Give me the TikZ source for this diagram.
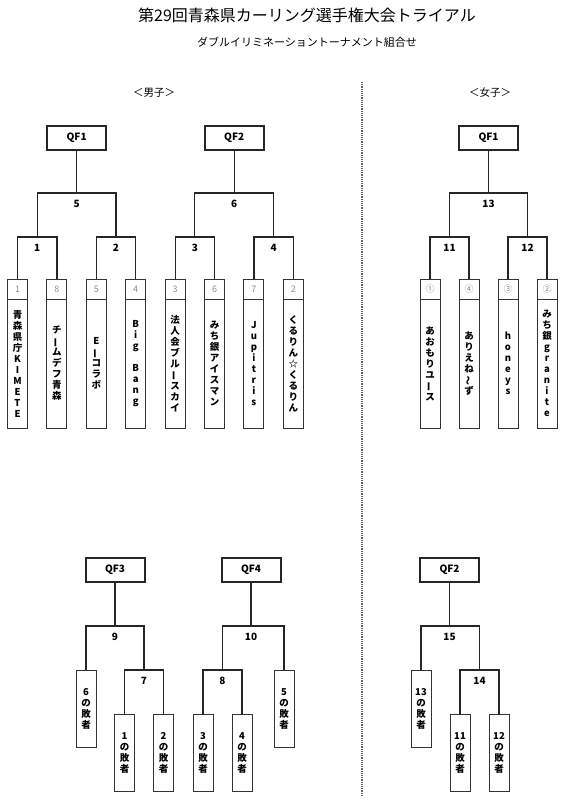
\documentclass[tikz,border=0pt]{standalone}
\usepackage{fontspec}
\setmainfont{Noto Sans CJK JP}
\usetikzlibrary{positioning}
\newcommand{\tbar}{\rotatebox[origin=c]{90}{ー}}
\newcommand{\tnami}{\rotatebox[origin=c]{90}{～}}

\begin{document}
\begin{tikzpicture}[
    x=1pt, y=-1pt,
    link/.style={draw=black!85, line width=1.2pt},
    qf/.style={draw=black!85, line width=2pt, minimum width=59pt,
               minimum height=24pt, inner sep=0pt,
               font=\bfseries\fontsize{10}{12}\selectfont},
    seed/.style={draw=black!80, line width=1pt, minimum width=20pt,
                 minimum height=20pt, inner sep=0pt, outer sep=0pt,
                 text=black!45, font=\fontsize{9}{10}\selectfont},
    team/.style={draw=black!80, line width=1pt, minimum width=20pt,
                 minimum height=129pt, inner sep=0pt, outer sep=0pt,
                 align=center, font=\bfseries\fontsize{9.5}{11}\selectfont},
    lose/.style={team, minimum height=77pt},
    num/.style={inner sep=0pt, font=\bfseries\fontsize{10}{12}\selectfont},
    grp/.style={inner sep=0pt, font=\fontsize{10.5}{12}\selectfont},
    sep/.style={draw=black!60, line width=1.6pt, dash pattern=on 1.2pt off 1pt},
]
\useasboundingbox (0,0) rectangle (566,800);

% ===================== Titulo =====================
\node[font=\fontsize{16}{18}\selectfont] (ttl) at (307,15)
      {第29回青森県カーリング選手権大会トライアル};
\node[font=\fontsize{11}{12}\selectfont] (sub) at (307,42)
      {ダブルイリミネーショントーナメント組合せ};
\node[grp] (gm) at (154,93) {＜男子＞};
\node[grp] (gw) at (490,93) {＜女子＞};
\draw[sep] (362,82) -- (362,795);

% ===================== Men: QF1 / QF2 =====================
\node[qf] (qf1) at (76.6,138) {QF1};
\node[qf] (qf2) at (234.2,138) {QF2};

\node[seed] (s1) at (17.5,289) {1};
\node[team, below=0pt of s1] (n1) {青\\森\\県\\庁\\K\\I\\M\\E\\T\\E};
\node[seed] (s8) at (56.9,289) {8};
\node[team, below=0pt of s8] (n8) {チ\\\tbar\\ム\\デ\\フ\\青\\森};
\node[seed] (s5) at (96.3,289) {5};
\node[team, below=0pt of s5] (n5) {E\\\tbar\\コ\\ラ\\ボ};
\node[seed] (s4) at (135.7,289) {4};
\node[team, below=0pt of s4] (n4) {B\\i\\g\\\mbox{}\\B\\a\\n\\g};
\node[seed] (s3) at (175.1,289) {3};
\node[team, below=0pt of s3] (n3) {法\\人\\会\\ブ\\ル\\\tbar\\ス\\カ\\イ};
\node[seed] (s6) at (214.5,289) {6};
\node[team, below=0pt of s6] (n6) {み\\ち\\銀\\ア\\イ\\ス\\マ\\ン};
\node[seed] (s7) at (253.9,289) {7};
\node[team, below=0pt of s7] (n7) {J\\u\\p\\i\\t\\r\\i\\s};
\node[seed] (s2) at (293.3,289) {2};
\node[team, below=0pt of s2] (n2) {く\\る\\り\\ん\\☆\\く\\る\\り\\ん};

\coordinate (m1) at (37.2,237);
\coordinate (m2) at (116,237);
\coordinate (m3) at (194.8,237);
\coordinate (m4) at (273.6,237);
\coordinate (m5) at (76.6,193);
\coordinate (m6) at (234.2,193);

\draw[link] (s1.north) |- (m1) -| (s8.north);
\draw[link] (s5.north) |- (m2) -| (s4.north);
\draw[link] (s3.north) |- (m3) -| (s6.north);
\draw[link] (s7.north) |- (m4) -| (s2.north);
\draw[link] (m1) |- (m5) -| (m2);
\draw[link] (m3) |- (m6) -| (m4);
\draw[link] (m5) -- (qf1.south);
\draw[link] (m6) -- (qf2.south);

\node[num, below=7pt of m1] (l1) {1};
\node[num, below=7pt of m2] (l2) {2};
\node[num, below=7pt of m3] (l3) {3};
\node[num, below=7pt of m4] (l4) {4};
\node[num, below=7pt of m5] (l5) {5};
\node[num, below=7pt of m6] (l6) {6};

% ===================== Women: QF1 =====================
\node[qf] (wqf1) at (488.5,138) {QF1};

\node[seed] (w1) at (430,289) {①};
\node[team, below=0pt of w1] (v1) {あ\\お\\も\\り\\ユ\\\tbar\\ス};
\node[seed] (w4) at (469,289) {④};
\node[team, below=0pt of w4] (v4) {あ\\り\\え\\ね\\\tnami\\ず};
\node[seed] (w3) at (508,289) {③};
\node[team, below=0pt of w3] (v3) {h\\o\\n\\e\\y\\s};
\node[seed] (w2) at (547,289) {②};
\node[team, below=0pt of w2] (v2) {み\\ち\\銀\\g\\r\\a\\n\\i\\t\\e};

\coordinate (m11) at (449.5,237);
\coordinate (m12) at (527.5,237);
\coordinate (m13) at (488.5,193);

\draw[link] (w1.north) |- (m11) -| (w4.north);
\draw[link] (w3.north) |- (m12) -| (w2.north);
\draw[link] (m11) |- (m13) -| (m12);
\draw[link] (m13) -- (wqf1.south);

\node[num, below=7pt of m11] (l11) {11};
\node[num, below=7pt of m12] (l12) {12};
\node[num, below=7pt of m13] (l13) {13};

% ===================== Men: QF3 / QF4 =====================
\node[qf] (qf3) at (115,570) {QF3};
\node[qf] (qf4) at (251,570) {QF4};

\node[lose] (x6) at (86,708.5) {6\\の\\敗\\者};
\node[lose] (x1) at (124.5,753) {1\\の\\敗\\者};
\node[lose] (x2) at (163.5,753) {2\\の\\敗\\者};
\node[lose] (x3) at (203,753) {3\\の\\敗\\者};
\node[lose] (x4) at (242,753) {4\\の\\敗\\者};
\node[lose] (x5) at (284,708.5) {5\\の\\敗\\者};

\coordinate (m7) at (144,670);
\coordinate (m8) at (222.5,670);
\coordinate (m9) at (115,626);
\coordinate (m10) at (251,626);

\draw[link] (x1.north) |- (m7) -| (x2.north);
\draw[link] (x3.north) |- (m8) -| (x4.north);
\draw[link] (x6.north) |- (m9) -| (m7);
\draw[link] (m8) |- (m10) -| (x5.north);
\draw[link] (m9) -- (qf3.south);
\draw[link] (m10) -- (qf4.south);

\node[num, below=7pt of m7] (l7) {7};
\node[num, below=7pt of m8] (l8) {8};
\node[num, below=7pt of m9] (l9) {9};
\node[num, below=7pt of m10] (l10) {10};

% ===================== Women: QF2 =====================
\node[qf] (wqf2) at (449.5,570) {QF2};

\node[lose] (y13) at (421,708.5) {13\\の\\敗\\者};
\node[lose] (y11) at (460,753) {11\\の\\敗\\者};
\node[lose] (y12) at (499,753) {12\\の\\敗\\者};

\coordinate (m14) at (479.5,670);
\coordinate (m15) at (449.5,626);

\draw[link] (y11.north) |- (m14) -| (y12.north);
\draw[link] (y13.north) |- (m15) -| (m14);
\draw[link] (m15) -- (wqf2.south);

\node[num, below=7pt of m14] (l14) {14};
\node[num, below=7pt of m15] (l15) {15};

\end{tikzpicture}
\end{document}
